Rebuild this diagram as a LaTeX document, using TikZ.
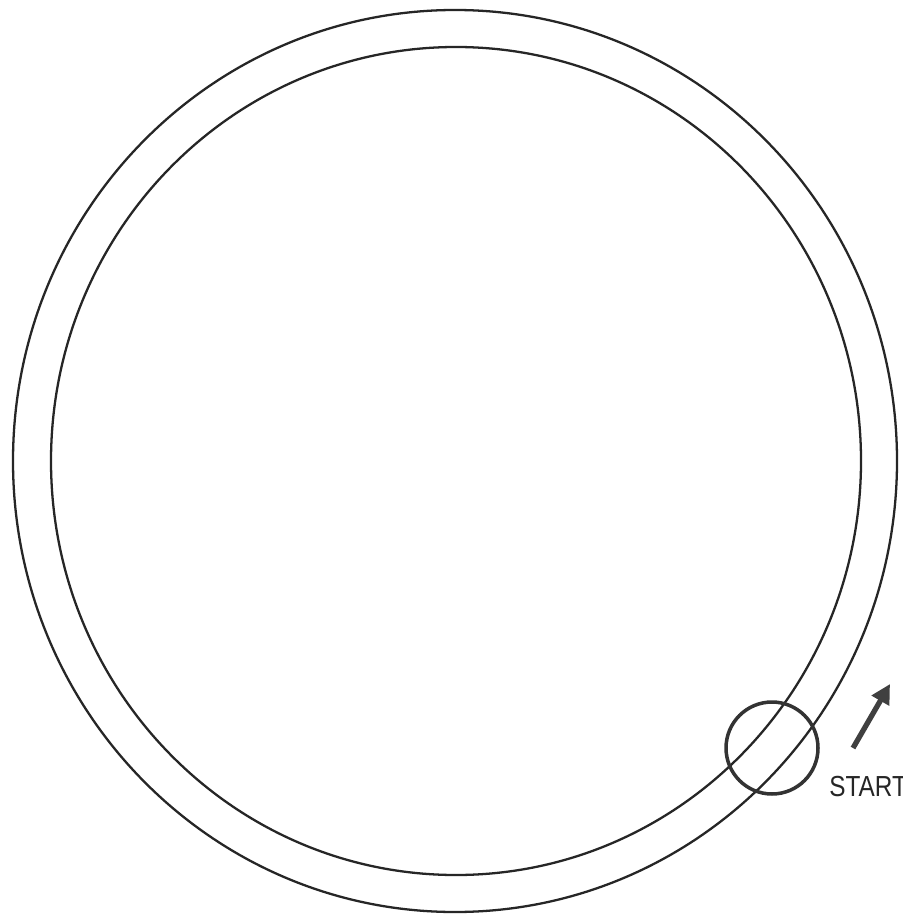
\documentclass[tikz,border=0pt]{standalone}
\usepackage{fontspec}
\setmainfont{Liberation Sans}
\usetikzlibrary{arrows.meta}
\begin{document}
\begin{tikzpicture}[x=0.02cm,y=-0.02cm,
  ring/.style={draw=black!85,line width=1.3pt},
  marker/.style={draw=black!80,line width=2pt},
  dirarrow/.style={draw=black!75,line width=3pt,-{Triangle[length=11pt,width=11pt]}},
  lbl/.style={font=\fontsize{16.5}{16.5}\selectfont,text=black!85,xscale=0.84,anchor=west,inner sep=0pt}]
\useasboundingbox (0,0) rectangle (902,915);
\fill[white] (0,0) rectangle (902,915);
\draw[ring] (455,461) ellipse [x radius=442, y radius=451];
\draw[ring] (456,461) ellipse [x radius=405, y radius=414];
\node[marker,circle,inner sep=0pt,minimum size=1.84cm] (m) at (772,748) {};
\coordinate (a0) at (853,748);
\coordinate (a1) at (890,684);
\draw[dirarrow] (a0) -- (a1);
\node[lbl] (s) at (829,787) {START};
\end{tikzpicture}
\end{document}
